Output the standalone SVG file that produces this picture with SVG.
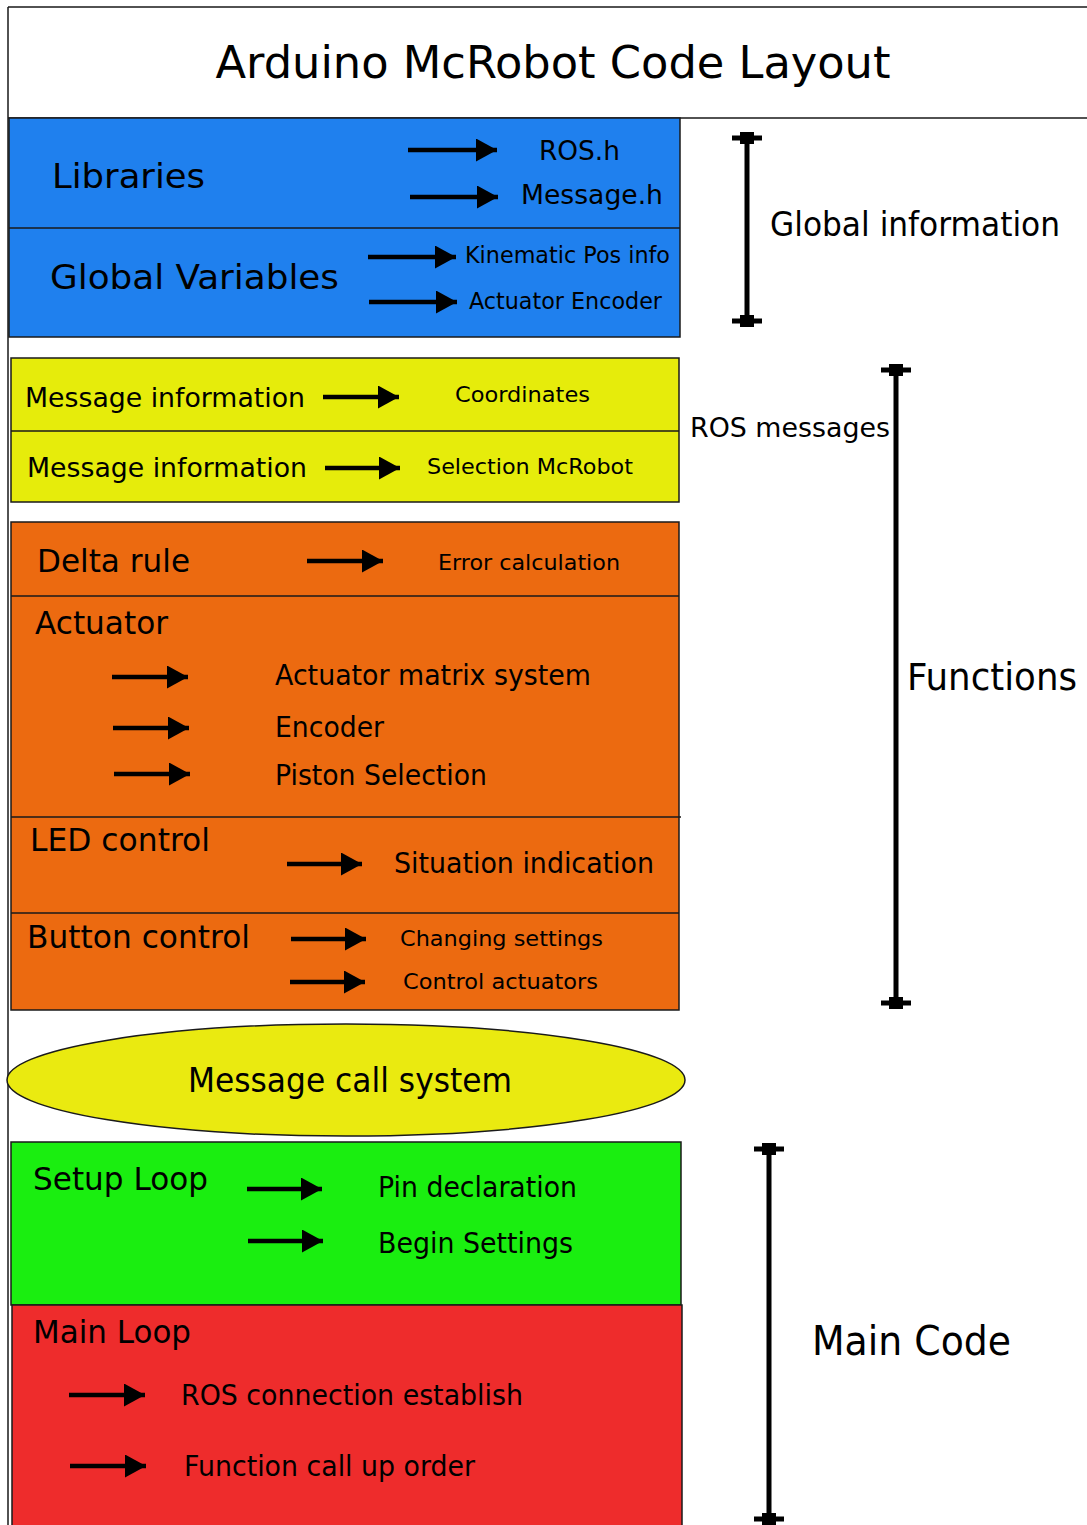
<svg xmlns="http://www.w3.org/2000/svg" width="1087" height="1525" viewBox="0 0 1087 1525">
<style>
text{font-family:"DejaVu Sans","Liberation Sans",sans-serif;fill:#000}
.box{stroke:#1a1a1a;stroke-width:1.5}
.div{stroke:#1a1a1a;stroke-width:1.5;fill:none}
.arr{stroke:#000;stroke-width:4.5;fill:none;marker-end:url(#ah)}
.brk{stroke:#000;stroke-width:5;fill:none;marker-start:url(#cap);marker-end:url(#cap)}
</style>
<defs>
<marker id="ah" markerUnits="userSpaceOnUse" viewBox="0 0 21 23" refX="21" refY="11.5" markerWidth="21" markerHeight="23" orient="auto">
<path d="M0,0 L21,11.5 L0,23 Z" fill="#000"/>
</marker>
<marker id="cap" markerUnits="userSpaceOnUse" viewBox="-16 -8 32 16" refX="0" refY="0" markerWidth="32" markerHeight="16" orient="0">
<path d="M-15,-2.5 H15 V2.5 H-15 Z M-7,-6 H7 V6 H-7 Z" fill="#000"/>
</marker>
</defs>

<g id="frame">
<path class="div" d="M8,7 H1087 M8,7 V1525 M8,118 H1087"/>
</g>

<g id="title"><text x="553" y="78" font-size="44" text-anchor="middle" textLength="675" lengthAdjust="spacingAndGlyphs">Arduino McRobot Code Layout</text></g>

<g id="global-block">
<rect class="box" x="9" y="118" width="671" height="219" fill="#1f80ee"/>
<path class="div" d="M9,228 H680"/>
</g>
<g id="libraries"><text x="52" y="188" font-size="34" textLength="153" lengthAdjust="spacingAndGlyphs">Libraries</text></g>
<g id="ros-h"><text x="539" y="160" font-size="26" textLength="81" lengthAdjust="spacingAndGlyphs">ROS.h</text></g>
<g id="message-h"><text x="521" y="204" font-size="26" textLength="142" lengthAdjust="spacingAndGlyphs">Message.h</text></g>
<g id="global-variables"><text x="50" y="289" font-size="34" textLength="289" lengthAdjust="spacingAndGlyphs">Global Variables</text></g>
<g id="kinematic"><text x="465" y="263" font-size="23" textLength="205" lengthAdjust="spacingAndGlyphs">Kinematic Pos info</text></g>
<g id="actuator-encoder"><text x="469" y="309" font-size="23" textLength="193" lengthAdjust="spacingAndGlyphs">Actuator Encoder</text></g>
<g id="global-information"><text x="770" y="236" font-size="33" textLength="290" lengthAdjust="spacingAndGlyphs">Global information</text></g>

<g id="ros-block">
<rect class="box" x="11" y="358" width="668" height="144" fill="#e6ec0b"/>
<path class="div" d="M11,431 H679"/>
</g>
<g id="msg-info-1"><text x="25" y="407" font-size="27" textLength="280" lengthAdjust="spacingAndGlyphs">Message information</text></g>
<g id="coordinates"><text x="455" y="402" font-size="22" textLength="135" lengthAdjust="spacingAndGlyphs">Coordinates</text></g>
<g id="msg-info-2"><text x="27" y="477" font-size="27" textLength="280" lengthAdjust="spacingAndGlyphs">Message information</text></g>
<g id="selection"><text x="427" y="474" font-size="22" textLength="206" lengthAdjust="spacingAndGlyphs">Selection McRobot</text></g>
<g id="ros-messages"><text x="690" y="437" font-size="27" textLength="200" lengthAdjust="spacingAndGlyphs">ROS messages</text></g>

<g id="functions-block">
<rect class="box" x="11" y="522" width="668" height="488" fill="#ec6a10"/>
<path class="div" d="M11,596 H679 M11,817 H681 M11,913 H679"/>
</g>
<g id="delta-rule"><text x="37" y="572" font-size="32" textLength="153" lengthAdjust="spacingAndGlyphs">Delta rule</text></g>
<g id="error-calc"><text x="438" y="570" font-size="22" textLength="182" lengthAdjust="spacingAndGlyphs">Error calculation</text></g>
<g id="actuator"><text x="35" y="634" font-size="32" textLength="133" lengthAdjust="spacingAndGlyphs">Actuator</text></g>
<g id="actuator-matrix"><text x="275" y="685" font-size="28" textLength="316" lengthAdjust="spacingAndGlyphs">Actuator matrix system</text></g>
<g id="encoder"><text x="275" y="737" font-size="28" textLength="109" lengthAdjust="spacingAndGlyphs">Encoder</text></g>
<g id="piston"><text x="275" y="785" font-size="28" textLength="212" lengthAdjust="spacingAndGlyphs">Piston Selection</text></g>
<g id="led-control"><text x="30" y="851" font-size="32" textLength="180" lengthAdjust="spacingAndGlyphs">LED control</text></g>
<g id="situation"><text x="394" y="873" font-size="28" textLength="260" lengthAdjust="spacingAndGlyphs">Situation indication</text></g>
<g id="button-control"><text x="27" y="948" font-size="32" textLength="223" lengthAdjust="spacingAndGlyphs">Button control</text></g>
<g id="changing"><text x="400" y="946" font-size="22" textLength="203" lengthAdjust="spacingAndGlyphs">Changing settings</text></g>
<g id="control-act"><text x="403" y="989" font-size="22" textLength="195" lengthAdjust="spacingAndGlyphs">Control actuators</text></g>
<g id="functions"><text x="907" y="690" font-size="37" textLength="170" lengthAdjust="spacingAndGlyphs">Functions</text></g>

<g id="message-call">
<ellipse class="box" cx="346" cy="1080" rx="339" ry="56" fill="#eaea10"/>
<text x="350" y="1092" font-size="33" text-anchor="middle" textLength="324" lengthAdjust="spacingAndGlyphs">Message call system</text>
</g>

<g id="setup-block"><rect class="box" x="11" y="1142" width="670" height="163" fill="#1aee10"/></g>
<g id="setup-loop"><text x="33" y="1190" font-size="32" textLength="175" lengthAdjust="spacingAndGlyphs">Setup Loop</text></g>
<g id="pin-decl"><text x="378" y="1197" font-size="28" textLength="199" lengthAdjust="spacingAndGlyphs">Pin declaration</text></g>
<g id="begin-settings"><text x="378" y="1253" font-size="28" textLength="195" lengthAdjust="spacingAndGlyphs">Begin Settings</text></g>

<g id="main-block"><rect class="box" x="12" y="1305" width="670" height="225" fill="#ee2c2c"/></g>
<g id="main-loop"><text x="33" y="1343" font-size="32" textLength="158" lengthAdjust="spacingAndGlyphs">Main Loop</text></g>
<g id="ros-conn"><text x="181" y="1405" font-size="28" textLength="342" lengthAdjust="spacingAndGlyphs">ROS connection establish</text></g>
<g id="func-call"><text x="184" y="1476" font-size="28" textLength="291" lengthAdjust="spacingAndGlyphs">Function call up order</text></g>
<g id="main-code"><text x="812" y="1355" font-size="41" textLength="199" lengthAdjust="spacingAndGlyphs">Main Code</text></g>

<g id="connectors">
<path class="arr" d="M408,150 H497"/>
<path class="arr" d="M410,197 H498"/>
<path class="arr" d="M368,257 H456"/>
<path class="arr" d="M369,302 H457"/>
<path class="arr" d="M323,397 H399"/>
<path class="arr" d="M325,468 H400"/>
<path class="arr" d="M307,561 H383"/>
<path class="arr" d="M112,677 H188"/>
<path class="arr" d="M113,728 H189"/>
<path class="arr" d="M114,774 H190"/>
<path class="arr" d="M287,864 H362"/>
<path class="arr" d="M291,939 H366"/>
<path class="arr" d="M290,982 H365"/>
<path class="arr" d="M247,1189 H322"/>
<path class="arr" d="M248,1241 H323"/>
<path class="arr" d="M69,1395 H145"/>
<path class="arr" d="M70,1466 H146"/>
<path class="brk" d="M747,138 V321"/>
<path class="brk" d="M896,370 V1003"/>
<path class="brk" d="M769,1149 V1519"/>
</g>
</svg>
